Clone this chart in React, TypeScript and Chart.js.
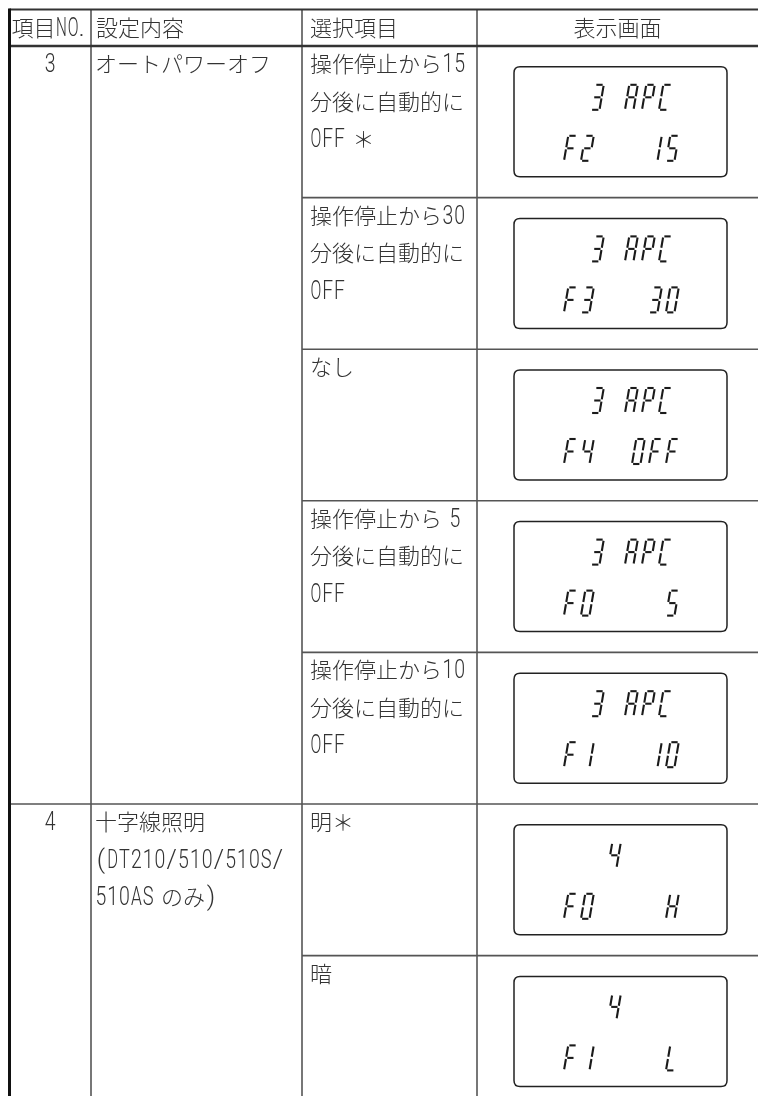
import React, { useEffect, useRef } from 'react';
import { Chart, registerables } from 'chart.js';

Chart.register(...registerables);

// ---------- data ----------
const headers = ['項目NO.', '設定内容', '選択項目', '表示画面'];
const itemNumbers = ['3', '4'];
const itemRowSpans = [5, 2];
const settingTexts = [
  ['オートパワーオフ'],
  ['十字線照明', '(DT210/510/510S/', '510AS のみ)'],
];
const optionTexts = [
  ['操作停止から15', '分後に自動的に', 'OFF ＊'],
  ['操作停止から30', '分後に自動的に', 'OFF'],
  ['なし'],
  ['操作停止から 5', '分後に自動的に', 'OFF'],
  ['操作停止から10', '分後に自動的に', 'OFF'],
  ['明＊'],
  ['暗'],
];
const displayUpper = [' 3 APC', ' 3 APC', ' 3 APC', ' 3 APC', ' 3 APC', '  4', '  4'];
const displayLower = ['F2   15', 'F3   30', 'F4  OFF', 'F0    5', 'F1   10', 'F0    H', 'F1    L'];

// ---------- layout / style ----------
const W = 758;
const H = 1096;
const TABLE_TOP = 9.5;
const HEADER_BOTTOM = 46;
const ROW_PITCH = 151.6;
const COL_EDGES = [9.5, 91, 302, 477, W];
const LINE_PITCH = 37.5;
const FIRST_BASELINE = 26;
const CJK_FONT = '300 22px "Noto Sans CJK JP", sans-serif';
const LATIN_FONT = '300 26px Roboto, "Liberation Sans", sans-serif';
const LATIN_CELL = 11.8;
const LATIN_MAX_GLYPH = 10.8;
const TEXT_COLOR = '#333';
const GRID_COLOR = '#555';
const BOX_W = 213;
const BOX_H = 110;
const SEG_W = 8.5;
const SEG_H = 25;
const SLANT = 0.17;
const CELL_PITCH = 17;
const UPPER_X0 = 60;
const LOWER_X0 = 50;
const UPPER_TOP = 18;
const LOWER_TOP = 69;

const SEGMENTS: Record<string, string> = {
  '0': 'abcdef', 'O': 'abcdef', '1': 'bc', '2': 'abged', '3': 'abcdg', '4': 'fgbc',
  '5': 'afgcd', 'A': 'abcefg', 'P': 'abefg', 'C': 'adef', 'F': 'aefg', 'H': 'bcefg', 'L': 'def',
};

function isCjk(ch: string) {
  return ch.charCodeAt(0) >= 0x2e80;
}

function latinAdvance(ch: string) {
  if (ch === ' ') return 7;
  if (ch === '.') return 5;
  return LATIN_CELL;
}

function drawMixed(ctx: CanvasRenderingContext2D, text: string, x: number, y: number, align: 'left' | 'center') {
  const chars = [...text];
  const widths = chars.map((ch) => {
    if (isCjk(ch)) {
      ctx.font = CJK_FONT;
      return ctx.measureText(ch).width;
    }
    return latinAdvance(ch);
  });
  const total = widths.reduce((a, b) => a + b, 0);
  let cx = align === 'center' ? x - total / 2 : x;
  ctx.fillStyle = TEXT_COLOR;
  ctx.textBaseline = 'alphabetic';
  chars.forEach((ch, i) => {
    ctx.save();
    if (isCjk(ch)) {
      ctx.font = CJK_FONT;
      ctx.textAlign = 'left';
      ctx.fillText(ch, cx, y);
    } else if (ch !== ' ') {
      ctx.font = LATIN_FONT;
      ctx.textAlign = 'center';
      const gw = ctx.measureText(ch).width;
      const s = Math.min(1, LATIN_MAX_GLYPH / gw);
      ctx.translate(cx + widths[i] / 2, y);
      ctx.scale(s, 1);
      ctx.fillText(ch, 0, 0);
    }
    ctx.restore();
    cx += widths[i];
  });
}

function drawGlyph(ctx: CanvasRenderingContext2D, ch: string, left: number, top: number) {
  const segs = SEGMENTS[ch];
  if (!segs) return;
  const gap = 1.1;
  const w = SEG_W;
  const h = SEG_H;
  const m = h / 2;
  const P = (u: number, v: number): [number, number] => [left + u + SLANT * (h - v), top + v];
  const defs: Record<string, [number, number, number, number]> = {
    a: [gap, 0, w - gap, 0],
    b: [w, gap, w, m - gap],
    c: [w, m + gap, w, h - gap],
    d: [gap, h, w - gap, h],
    e: [0, m + gap, 0, h - gap],
    f: [0, gap, 0, m - gap],
    g: [gap, m, w - gap, m],
  };
  ctx.strokeStyle = '#1a1a1a';
  ctx.lineWidth = 2.1;
  ctx.lineCap = 'butt';
  for (const s of segs) {
    const d = defs[s];
    const [x1, y1] = P(d[0], d[1]);
    const [x2, y2] = P(d[2], d[3]);
    ctx.beginPath();
    ctx.moveTo(x1, y1);
    ctx.lineTo(x2, y2);
    ctx.stroke();
  }
}

function roundRect(ctx: CanvasRenderingContext2D, x: number, y: number, w: number, h: number, r: number) {
  ctx.beginPath();
  ctx.moveTo(x + r, y);
  ctx.lineTo(x + w - r, y);
  ctx.quadraticCurveTo(x + w, y, x + w, y + r);
  ctx.lineTo(x + w, y + h - r);
  ctx.quadraticCurveTo(x + w, y + h, x + w - r, y + h);
  ctx.lineTo(x + r, y + h);
  ctx.quadraticCurveTo(x, y + h, x, y + h - r);
  ctx.lineTo(x, y + r);
  ctx.quadraticCurveTo(x, y, x + r, y);
  ctx.closePath();
}

const tablePlugin = {
  id: 'tablePlugin',
  beforeDraw(chart: any) {
    const ctx: CanvasRenderingContext2D = chart.ctx;
    ctx.save();
    ctx.fillStyle = '#fff';
    ctx.fillRect(0, 0, chart.width, chart.height);
    ctx.restore();
  },
  afterDatasetsDraw(chart: any) {
    const ctx: CanvasRenderingContext2D = chart.ctx;
    const xs = chart.scales.x;
    const ys = chart.scales.y;
    const px = (v: number) => xs.getPixelForValue(v);
    const rowY = (r: number) => ys.getPixelForValue(r);
    const cols = COL_EDGES.map(px);
    const top = ys.getPixelForValue((TABLE_TOP - HEADER_BOTTOM) / ROW_PITCH);
    const bottom = chart.height;
    const nRows = optionTexts.length;

    ctx.save();
    // horizontal sub-row lines
    ctx.strokeStyle = GRID_COLOR;
    ctx.lineWidth = 1.6;
    let acc = 0;
    const groupStarts = new Set<number>();
    itemRowSpans.forEach((s) => { acc += s; groupStarts.add(acc); });
    for (let r = 1; r < nRows; r++) {
      const y = rowY(r);
      ctx.beginPath();
      ctx.moveTo(groupStarts.has(r) ? cols[0] : cols[2], y);
      ctx.lineTo(cols[4], y);
      ctx.stroke();
    }
    // vertical lines
    for (let c = 1; c < 4; c++) {
      ctx.beginPath();
      ctx.moveTo(cols[c], top);
      ctx.lineTo(cols[c], bottom);
      ctx.stroke();
    }
    // header lines
    ctx.strokeStyle = '#333';
    ctx.lineWidth = 2;
    ctx.beginPath();
    ctx.moveTo(cols[0], top);
    ctx.lineTo(cols[4], top);
    ctx.stroke();
    ctx.lineWidth = 2.6;
    ctx.beginPath();
    ctx.moveTo(cols[0], rowY(0));
    ctx.lineTo(cols[4], rowY(0));
    ctx.stroke();
    // left border
    ctx.strokeStyle = '#111';
    ctx.lineWidth = 3;
    ctx.beginPath();
    ctx.moveTo(cols[0], top - 1);
    ctx.lineTo(cols[0], bottom);
    ctx.stroke();

    // header texts
    const headerBase = (top + rowY(0)) / 2 + 8;
    drawMixed(ctx, headers[0], cols[0] + 2, headerBase, 'left');
    drawMixed(ctx, headers[1], cols[1] + 5, headerBase, 'left');
    drawMixed(ctx, headers[2], cols[2] + 8, headerBase, 'left');
    drawMixed(ctx, headers[3], (cols[3] + cols[4]) / 2, headerBase, 'center');

    // item numbers and settings
    let start = 0;
    itemNumbers.forEach((no, i) => {
      const y0 = rowY(start);
      drawMixed(ctx, no, (cols[0] + cols[1]) / 2, y0 + FIRST_BASELINE, 'center');
      settingTexts[i].forEach((t, j) => {
        drawMixed(ctx, t, cols[1] + 4, y0 + FIRST_BASELINE + j * LINE_PITCH, 'left');
      });
      start += itemRowSpans[i];
    });

    // options
    optionTexts.forEach((lines, r) => {
      const y0 = rowY(r);
      lines.forEach((t, j) => {
        drawMixed(ctx, t, cols[2] + 8, y0 + FIRST_BASELINE + j * LINE_PITCH, 'left');
      });
    });

    // LCD displays at dataset points
    const meta = chart.getDatasetMeta(0);
    meta.data.forEach((pt: any, i: number) => {
      const bx = pt.x - BOX_W / 2;
      const by = pt.y - BOX_H / 2;
      ctx.strokeStyle = '#222';
      ctx.lineWidth = 1.5;
      roundRect(ctx, bx, by, BOX_W, BOX_H, 6);
      ctx.stroke();
      [...displayUpper[i]].forEach((ch, k) => {
        drawGlyph(ctx, ch, bx + UPPER_X0 + k * CELL_PITCH, by + UPPER_TOP);
      });
      [...displayLower[i]].forEach((ch, k) => {
        drawGlyph(ctx, ch, bx + LOWER_X0 + k * CELL_PITCH, by + LOWER_TOP);
      });
    });
    ctx.restore();
  },
};

export default function App() {
  const ref = useRef<HTMLCanvasElement | null>(null);
  useEffect(() => {
    if (!ref.current) return;
    const displayCenterX = (COL_EDGES[3] + COL_EDGES[4]) / 2 + 3;
    const chart = new Chart(ref.current, {
      type: 'scatter',
      data: {
        datasets: [
          {
            label: '表示画面',
            data: displayLower.map((_, i) => ({ x: displayCenterX, y: i + 0.5 })),
            pointRadius: 0,
            pointHoverRadius: 0,
          },
        ],
      },
      options: {
        animation: false,
        responsive: false,
        maintainAspectRatio: false,
        devicePixelRatio: 1,
        layout: { padding: 0 },
        events: [],
        plugins: { legend: { display: false }, tooltip: { enabled: false } },
        scales: {
          x: { type: 'linear', display: false, min: 0, max: W },
          y: {
            type: 'linear',
            display: false,
            reverse: true,
            min: -HEADER_BOTTOM / ROW_PITCH,
            max: (H - HEADER_BOTTOM) / ROW_PITCH,
          },
        },
      },
      plugins: [tablePlugin],
    });
    return () => chart.destroy();
  }, []);
  return (
    <div style={{ position: 'fixed', left: 0, top: 0, width: W, height: H, background: '#fff' }}>
      <canvas ref={ref} width={W} height={H} style={{ width: W, height: H, display: 'block' }} />
    </div>
  );
}
